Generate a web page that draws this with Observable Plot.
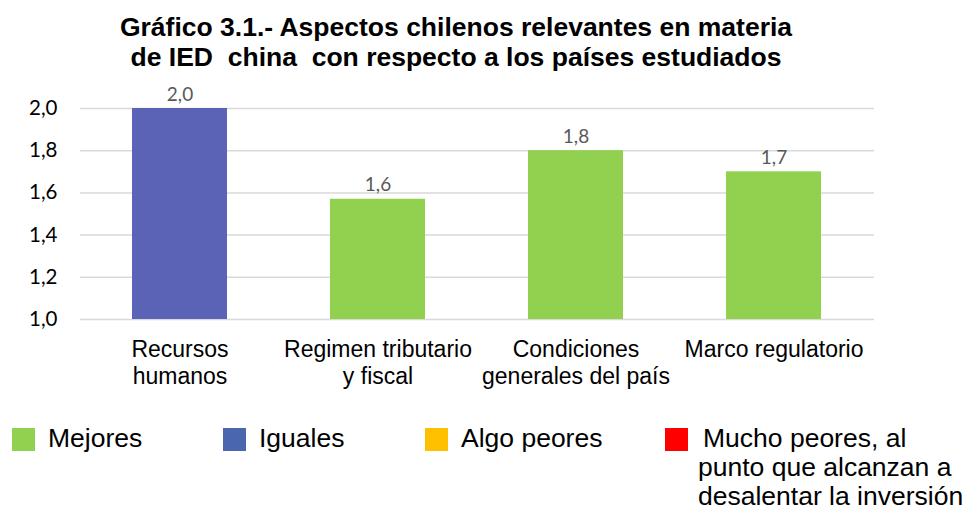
<!DOCTYPE html>
<html>
<head>
<meta charset="utf-8">
<script src="https://cdn.jsdelivr.net/npm/d3@7"></script>
<script src="https://cdn.jsdelivr.net/npm/@observablehq/plot@0.6"></script>
<style>
  body { margin: 0; background: #fff; font-family: "Liberation Sans", Arial, sans-serif; }
  #wrap { position: relative; width: 966px; height: 510px; overflow: hidden; }
  #title { position: absolute; left: 0; top: 13px; width: 912px; text-align: center; font-weight: bold; font-size: 26.5px; line-height: 29.5px; color: #000; white-space: nowrap; }
  #chart { position: absolute; left: 0; top: 80px; }
  .leg { position: absolute; font-size: 26.5px; line-height: 29px; color: #000; white-space: nowrap; }
  .sw { position: absolute; width: 23px; height: 23px; }
</style>
</head>
<body>
<div id="wrap">
  <div id="title">Gráfico 3.1.- Aspectos chilenos relevantes en materia<br>de IED&nbsp; china&nbsp; con respecto a los países estudiados</div>
  <div id="chart"></div>
  <div id="legend"></div>
</div>
<script>
const categories = ["Recursos\nhumanos", "Regimen tributario\ny fiscal", "Condiciones\ngenerales del país", "Marco regulatorio"];
const values = [2.0, 1.57, 1.8, 1.7];
const barColors = ["#5B63B7", "#92D050", "#92D050", "#92D050"];
const yTicks = [1.0, 1.2, 1.4, 1.6, 1.8, 2.0];
const legendLabels = ["Mejores", "Iguales", "Algo peores", "Mucho peores, al\npunto que alcanzan a\ndesalentar la inversión"];
const legendColors = ["#92D050", "#4A66AC", "#FFC000", "#FF0000"];

const data = categories.map((c, i) => ({cat: c, value: values[i], color: barColors[i]}));
const fmt = v => v.toFixed(1).replace(".", ",");

const chart = Plot.plot({
  width: 966,
  height: 310,
  marginLeft: 80,
  marginRight: 92,
  marginTop: 28,
  marginBottom: 71,
  style: { fontFamily: "Lato, 'Noto Sans', sans-serif", background: "#fff" },
  x: { domain: categories, paddingInner: 0.52, paddingOuter: 0.26, axis: null },
  y: { domain: [1, 2], axis: null },
  marks: [
    Plot.ruleY(yTicks, { stroke: "#d9d9d9", strokeWidth: 1.5 }),
    Plot.barY(data, { x: "cat", y1: 1, y2: "value", fill: "color" }),
    Plot.text(data, { x: "cat", y: "value", text: d => fmt(d.value), dy: -8, lineAnchor: "bottom", fontSize: 19, fill: "#595959", fontFamily: "Lato, sans-serif" }),
    Plot.axisY({ ticks: yTicks, tickFormat: fmt, tickSize: 0, tickPadding: 23, fontSize: 20.5, fill: "#000", fontFamily: "Lato, sans-serif", label: null }),
    Plot.axisX({ tickSize: 0, tickPadding: 18, fontSize: 23, lineHeight: 1.18, fill: "#000", fontFamily: "'Liberation Sans', Arial, sans-serif", label: null })
  ]
});
document.getElementById("chart").appendChild(chart);

// legend
const legend = document.getElementById("legend");
const legX = [12, 223, 425, 665];
legendLabels.forEach((lab, i) => {
  const sw = document.createElement("div");
  sw.className = "sw";
  sw.style.left = legX[i] + "px";
  sw.style.top = "428px";
  sw.style.background = legendColors[i];
  legend.appendChild(sw);
  const t = document.createElement("div");
  t.className = "leg";
  t.style.left = (legX[i] + (i === 3 ? 38 : 36)) + "px";
  t.style.top = "424px";
  t.innerHTML = lab.split("\n").map((l, j) => j === 0 ? l : "<span style='margin-left:-5px'>" + l + "</span>").join("<br>");
  legend.appendChild(t);
});
</script>
</body>
</html>
